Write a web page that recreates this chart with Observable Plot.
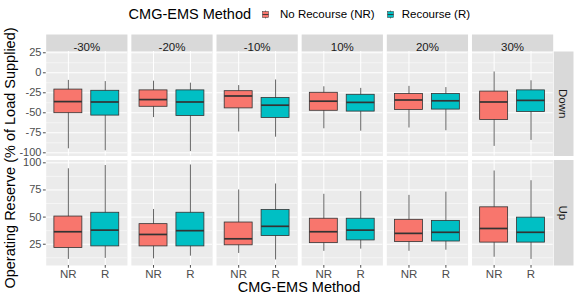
<!DOCTYPE html>
<html><head><meta charset="utf-8">
<script src="https://cdn.jsdelivr.net/npm/d3@7"></script>
<script src="https://cdn.jsdelivr.net/npm/@observablehq/plot@0.6"></script>
<style>
body{margin:0;background:#fff;font-family:"Liberation Sans",Arial,sans-serif;}
#wrap{position:relative;width:574px;height:299px;overflow:hidden;background:#fff;}
.abs{position:absolute;white-space:nowrap;}
</style></head><body><div id="wrap"></div>
<script>
// ---- data ----
const facets = ["-30%", "-20%", "-10%", "10%", "20%", "30%"];
const methods = ["NR", "R"];
const methodNames = ["No Recourse (NR)", "Recourse (R)"];
const directions = ["Down", "Up"];
const colors = ["#F8766D", "#00BFC4"];

// order: for each facet, NR then R
const downLow    = [-95, -97.5, -56, -98.5, -74, -80.5, -70, -73, -69, -72.5, -92, -84.5];
const downQ1     = [-50.5, -53.5, -42.5, -54, -44.5, -56.5, -47.5, -48.5, -46.5, -46, -59, -49];
const downMedian = [-36, -36.5, -33.5, -36.5, -29, -40.5, -35.5, -37, -34, -35, -36.5, -34.5];
const downQ3     = [-21, -22.5, -22, -22, -23, -31.5, -25, -27.5, -26.5, -26.5, -23.5, -22];
const downHigh   = [-9.5, -11, -10.5, -13, -16, -9, -17.5, -19.5, -17, -18.5, 1, -10];

const upLow    = [11, 12, 11.5, 14, 16.5, 10.5, 18.5, 20.5, 18.5, 19.5, 13, 11];
const upQ1     = [21.5, 23, 23, 23, 24, 32.5, 26, 28.5, 27, 27.5, 26.5, 26.5];
const upMedian = [36.5, 38, 34, 37.5, 30, 41.5, 36.5, 38, 35, 36, 39.5, 36];
const upQ3     = [50.5, 54, 43.5, 54, 45, 56.5, 48.5, 48.5, 47.5, 46.5, 59, 49.5];
const upHigh   = [94.5, 97.5, 57, 98, 75, 80.5, 71, 73.5, 70, 73, 92.5, 83.5];

const downTicks = [25, 0, -25, -50, -75, -100];
const downMinor = [12.5, -12.5, -37.5, -62.5, -87.5];
const upTicks = [25, 50, 75, 100];
const upMinor = [12.5, 37.5, 62.5, 87.5];

// ---- build ----
function rowsOf(lo, q1, med, q3, hi) {
  return lo.map((_, i) => ({
    facet: facets[Math.floor(i / 2)], method: methods[i % 2],
    lo: lo[i], q1: q1[i], median: med[i], q3: q3[i], hi: hi[i]
  }));
}
const downRows = rowsOf(downLow, downQ1, downMedian, downQ3, downHigh);
const upRows = rowsOf(upLow, upQ1, upMedian, upQ3, upHigh);

const W = 574, ML = 45.7, MR = 21.3;
const PI = 0.046;
const innerW = W - ML - MR;
const step = innerW / (facets.length - PI);
const bw = step * (1 - PI);
const font = "Liberation Sans, Arial, sans-serif";

function makeRow({rows, ticks, minor, domain, height, mt, mb, top, bottom, dir}) {
  const innerH = height - mt - mb;
  const marks = [];
  if (top) marks.push(Plot.frame({fill: "#D9D9D9", insetTop: -17, insetBottom: innerH}));
  marks.push(
    Plot.frame({fill: "#EBEBEB"}),
    Plot.ruleY(minor, {stroke: "white", strokeWidth: 0.5}),
    Plot.ruleY(ticks, {stroke: "white", strokeWidth: 1}),
    Plot.gridX({stroke: "white", strokeOpacity: 1, strokeWidth: 1}),
    Plot.ruleX(rows, {fx: "facet", x: "method", y1: "lo", y2: "hi", stroke: "#333", strokeWidth: 0.75}),
    Plot.barY(rows, {fx: "facet", x: "method", y1: "q1", y2: "q3", fill: "method", stroke: "#333", strokeWidth: 0.8}),
    Plot.tickY(rows, {fx: "facet", x: "method", y: "median", stroke: "#333", strokeWidth: 1.7}),
    Plot.axisY(ticks, {anchor: "left", tickSize: 2.75, tickPadding: 2, fontSize: 11, color: "#4D4D4D", label: null, tickFormat: d => String(d)}),
    Plot.frame({fx: ["30%"], fill: "#D9D9D9", insetLeft: bw + 0.6, insetRight: -(MR - 0.6 - 0.4)}),
    Plot.text([dir], {fx: ["30%"], text: d => d, frameAnchor: "right", textAnchor: "middle", dx: 0.6 + 8.7, rotate: 90, fontSize: 11.5, fill: "#1A1A1A"})
  );
  if (top) marks.push(Plot.text(facets, {fx: d => d, text: d => d, frameAnchor: "top", dy: -8.5, fontSize: 11.5, fill: "#1A1A1A"}));
  if (bottom) marks.push(Plot.axisX({anchor: "bottom", tickSize: 2.75, tickPadding: 1.5, fontSize: 11.5, color: "#4D4D4D", label: null}));
  return Plot.plot({
    width: W, height, marginLeft: ML, marginRight: MR, marginTop: mt, marginBottom: mb,
    style: {fontFamily: font, background: "transparent", overflow: "visible"},
    fx: {domain: facets, paddingInner: PI, paddingOuter: 0, round: false, axis: null, label: null},
    x: {domain: methods, paddingInner: 0.242, paddingOuter: 0.222, round: false, axis: bottom ? undefined : null, label: null},
    y: {domain, axis: null},
    color: {domain: methods, range: colors},
    marks
  });
}

const wrap = document.getElementById("wrap");
const topPlot = makeRow({rows: downRows, ticks: downTicks, minor: downMinor, domain: [-104, 26.6], height: 126, mt: 21, mb: 0.5, top: true, bottom: false, dir: directions[0]});
topPlot.style.position = "absolute"; topPlot.style.left = "0px"; topPlot.style.top = "30px";
wrap.appendChild(topPlot);
const botPlot = makeRow({rows: upRows, ticks: upTicks, minor: upMinor, domain: [5.4, 102.6], height: 143, mt: 3.5, mb: 34, top: false, bottom: true, dir: directions[1]});
botPlot.style.position = "absolute"; botPlot.style.left = "0px"; botPlot.style.top = "156px";
wrap.appendChild(botPlot);

function addText(txt, css) {
  const d = document.createElement("div");
  d.className = "abs"; d.textContent = txt;
  Object.assign(d.style, css);
  wrap.appendChild(d);
  return d;
}
// axis titles
addText("CMG-EMS Method", {left: "299px", top: "287px", transform: "translate(-50%,-50%)", fontSize: "14.5px", color: "#000"});
addText("Operating Reserve (% of Load Supplied)", {left: "10px", top: "158px", transform: "translate(-50%,-50%) rotate(-90deg)", fontSize: "14.5px", color: "#000"});

// legend
addText("CMG-EMS Method", {left: "128.6px", top: "14px", transform: "translateY(-50%)", fontSize: "14.5px", color: "#000"});
const keyX = [258.5, 383.5], labX = [280, 401.7];
methods.forEach((m, i) => {
  const svg = d3.create("svg").attr("width", 13).attr("height", 13)
    .style("position", "absolute").style("left", keyX[i] + "px").style("top", "8px");
  svg.append("line").attr("x1", 6.5).attr("x2", 6.5).attr("y1", 2.5).attr("y2", 10.5).attr("stroke", "#333").attr("stroke-width", 0.6);
  svg.append("rect").attr("x", 3.5).attr("y", 3.5).attr("width", 6).attr("height", 6).attr("fill", colors[i]).attr("stroke", "#333").attr("stroke-width", 0.5);
  svg.append("line").attr("x1", 3.5).attr("x2", 9.5).attr("y1", 6.5).attr("y2", 6.5).attr("stroke", "#333").attr("stroke-width", 0.9);
  wrap.appendChild(svg.node());
  addText(methodNames[i], {left: labX[i] + "px", top: "14px", transform: "translateY(-50%)", fontSize: "11.5px", color: "#000"});
});
</script></body></html>
